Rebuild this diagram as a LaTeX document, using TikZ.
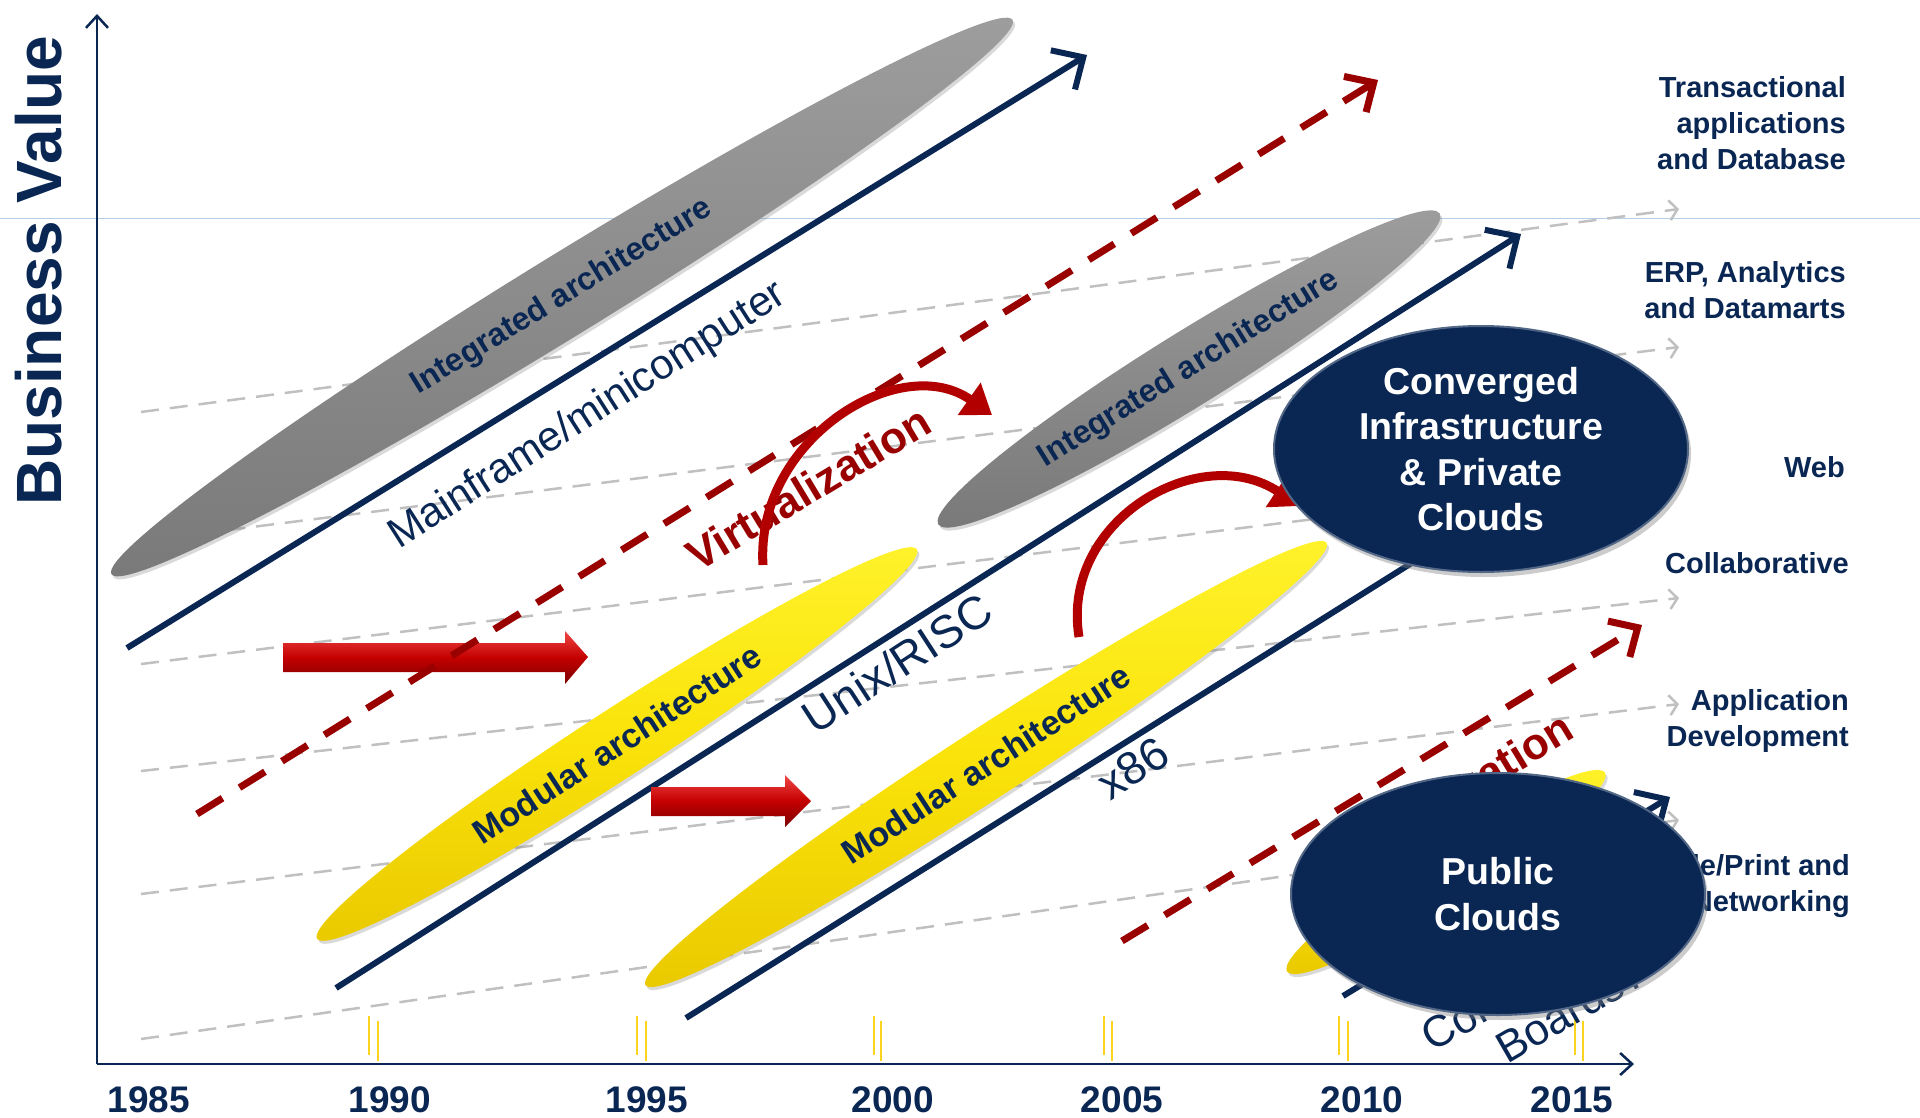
\documentclass[tikz,border=0pt]{standalone}
\usepackage{fontspec}
\setmainfont{Liberation Sans}
\usetikzlibrary{arrows.meta,shapes.geometric,shadows}

\definecolor{navyblue}{RGB}{10,39,84}
\definecolor{trendred}{RGB}{153,0,0}
\definecolor{swingred}{RGB}{178,0,0}
\definecolor{guidegray}{RGB}{192,192,192}
\definecolor{rulerblue}{RGB}{178,206,234}
\definecolor{tickyellow}{RGB}{250,212,30}
\definecolor{blobgraytop}{RGB}{158,158,158}
\definecolor{blobgraymid}{RGB}{140,140,140}
\definecolor{blobgraylow}{RGB}{122,122,122}
\definecolor{blobyellowtop}{RGB}{255,243,45}
\definecolor{blobyellowmid}{RGB}{250,227,10}
\definecolor{blobyellowlow}{RGB}{234,202,0}
\definecolor{blockredtop}{RGB}{240,70,70}
\definecolor{blockredmid}{RGB}{196,0,0}
\definecolor{blockredlow}{RGB}{125,0,0}

\tikzset{
	axisline/.style = {navyblue, line width = 2.5pt, -{Straight Barb[length = 12pt, width = 22pt]}},
	guideline/.style = {guidegray, line width = 2.5pt, dash pattern = on 18pt off 11pt, -{Straight Barb[length = 8pt, width = 20pt]}},
	yeartick/.style = {tickyellow, line width = 1.5pt},
	era/.style = {navyblue, line width = 6pt, -{Straight Barb[length = 24pt, width = 46pt]}},
	trendline/.style = {trendred, line width = 7pt, dash pattern = on 30pt off 20pt, -{Straight Barb[length = 22pt, width = 42pt]}},
	swingarrow/.style = {swingred, line width = 9pt, -{Triangle[length = 28pt, width = 38pt]}},
	blockarrow/.style = {top color = blockredtop, bottom color = blockredlow, middle color = blockredmid},
	blob/.style = {ellipse, inner sep = 0pt, text = navyblue, drop shadow = {opacity = 0.3, shadow xshift = 2pt, shadow yshift = -3pt}},
	grayblob/.style = {blob, top color = blobgraytop, bottom color = blobgraylow, middle color = blobgraymid, font = \fontsize{32}{38}\selectfont\bfseries},
	yellowblob/.style = {blob, top color = blobyellowtop, bottom color = blobyellowlow, middle color = blobyellowmid, font = \fontsize{34}{40}\selectfont\bfseries},
	cloudblob/.style = {ellipse, inner sep = 0pt, fill = navyblue, draw = navyblue!70!white, line width = 2pt, drop shadow = {opacity = 0.4, shadow xshift = 3pt, shadow yshift = -5pt}},
	cloudtext/.style = {align = center, text = white, font = \fontsize{37.5}{45.5}\selectfont\bfseries},
	sidenote/.style = {anchor = east, align = right, inner sep = 0pt, text = navyblue, font = \fontsize{29}{35.7}\selectfont\bfseries},
	yearlabel/.style = {inner sep = 0pt, text = navyblue, font = \fontsize{37}{44}\selectfont\bfseries},
	eralabel/.style = {text = navyblue, font = \fontsize{#1}{#1}\selectfont},
	trendlabel/.style = {text = trendred, font = \fontsize{44}{52}\selectfont\bfseries}
}

\begin{document}
\begin{tikzpicture}[x = 1pt, y = -1pt]
	\useasboundingbox (0,0) rectangle (1920,1117);
	
	\draw [rulerblue, line width = 1pt](0,218)--(1920,218);
	
	\draw [guideline](141,412)--(1679,209);
	\draw [guideline](141,541)--(1679,347);
	\draw [guideline](141,664)--(1679,474);
	\draw [guideline](141,771)--(1679,598);
	\draw [guideline](141,894)--(1679,704);
	\draw [guideline](141,1039)--(1679,820);
	
	\draw [yeartick](369,1016)--(369,1055);
	\draw [yeartick](378,1021)--(378,1061);
	\draw [yeartick](637,1016)--(637,1055);
	\draw [yeartick](646,1021)--(646,1061);
	\draw [yeartick](874,1016)--(874,1055);
	\draw [yeartick](881,1021)--(881,1061);
	\draw [yeartick](1104,1016)--(1104,1055);
	\draw [yeartick](1112,1021)--(1112,1061);
	\draw [yeartick](1339,1016)--(1339,1055);
	\draw [yeartick](1348,1021)--(1348,1061);
	\draw [yeartick](1575,1016)--(1575,1055);
	\draw [yeartick](1583,1021)--(1583,1061);
	
	\coordinate (origin) at (97,1064);
	\draw [axisline](origin)--(97,14);
	\draw [axisline](origin)--(1634,1064);
	
	\node [rotate = 90, text = navyblue, font = \fontsize{64}{70}\selectfont\bfseries] (bizvalue) at (39,271) {Business Value};
	
	\node [yearlabel] (y1985) at (149,1100) {1985};
	\node [yearlabel] (y1990) at (390,1100) {1990};
	\node [yearlabel] (y1995) at (647,1100) {1995};
	\node [yearlabel] (y2000) at (893,1100) {2000};
	\node [yearlabel] (y2005) at (1122,1100) {2005};
	\node [yearlabel] (y2010) at (1362,1100) {2010};
	\node [yearlabel] (y2015) at (1572,1100) {2015};
	
	\node [grayblob, minimum width = 1058pt, minimum height = 81pt, rotate = 31.6] (integA) at (562,297) {Integrated architecture};
	\node [grayblob, minimum width = 590pt, minimum height = 74pt, rotate = 31.8] (integB) at (1189,369) {Integrated architecture};
	\node [yellowblob, minimum width = 715pt, minimum height = 68pt, rotate = 33] (modA) at (617,744) {Modular architecture};
	\node [yellowblob, minimum width = 812pt, minimum height = 70pt, rotate = 33] (modB) at (986,764) {Modular architecture};
	\node [yellowblob, minimum width = 375pt, minimum height = 55pt, rotate = 32] (modC) at (1446,872) {};
	
	\draw [era](127,648)--(1087,55);
	\node [eralabel = 42, rotate = 32.6] (mainframe) at (588,416) {Mainframe/minicomputer};
	\draw [era](336,988)--(1521,234);
	\node [eralabel = 46, rotate = 33] (unix) at (897,663) {Unix/RISC};
	\draw [era](686,1018)--(1560,470);
	\node [eralabel = 46, rotate = 33] (xeightysix) at (1133,768) {x86};
	\draw [era](1343,996)--(1670,797);
	\node [inner sep = 0pt, text = navyblue, align = right, rotate = 30, font = \fontsize{44}{47}\selectfont] (commodity) at (1533,1004) {Commodity\\Boards?};
	
	\path [blockarrow](283,643)--(565,643)--(565,631)--(588,657)--(565,684)--(565,672)--(283,672)--cycle;
	\path [blockarrow](651,787)--(785,787)--(785,775)--(811,801)--(785,827)--(785,816)--(651,816)--cycle;
	
	\draw [trendline](197,814)--(1378,80);
	\node [trendlabel, rotate = 31] (virtA) at (808,488) {Virtualization};
	\draw [trendline](1122,941)--(1642,625);
	\node [trendlabel, rotate = 31.3] (virtB) at (1451,795) {Virtualization};
	
	\draw [swingarrow](763,565) .. controls (755,440) and (900,350) .. (992,415);
	\draw [swingarrow](1079,637) .. controls (1060,520) and (1200,440) .. (1300,506);
	
	\node [sidenote] (transact) at (1846,123) {Transactional\\applications\\and Database};
	\node [sidenote] (erp) at (1846,290) {ERP, Analytics\\and Datamarts};
	\node [sidenote] (web) at (1845,467) {Web};
	\node [sidenote] (collab) at (1849,563) {Collaborative};
	\node [sidenote] (appdev) at (1849,721) {Application\\Development};
	\node [sidenote] (fileprint) at (1850,886) {File/Print and\\Networking};
	
	\node [cloudblob, minimum width = 414pt, minimum height = 246pt] (converged) at (1481,449) {};
	\node [cloudtext] (convergedtext) at (converged) {Converged\\Infrastructure\\\& Private\\Clouds};
	\node [cloudblob, minimum width = 414pt, minimum height = 242pt] (public) at (1498,894) {};
	\node [cloudtext] (publictext) at (public) {Public\\Clouds};
\end{tikzpicture}
\end{document}
